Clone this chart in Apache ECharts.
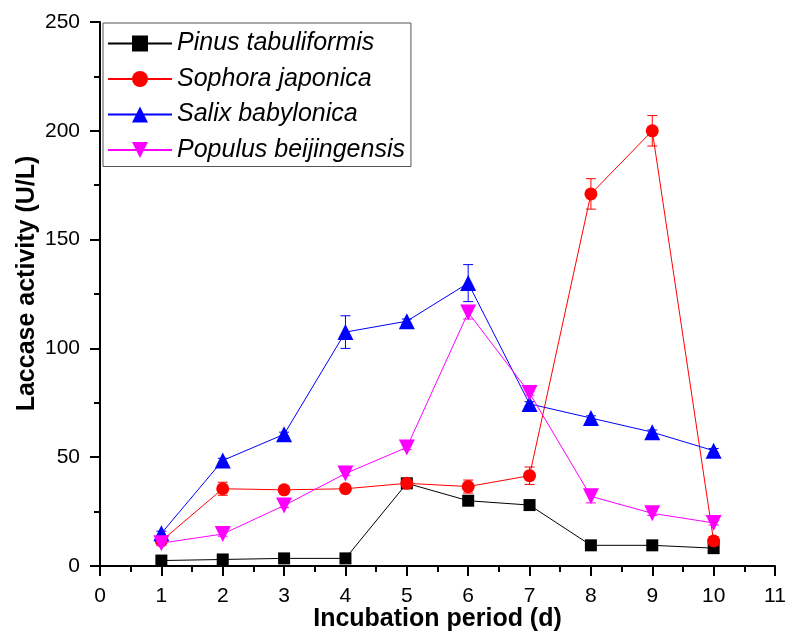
<!DOCTYPE html>
<html>
<head>
<meta charset="utf-8">
<script src="https://cdn.jsdelivr.net/npm/echarts@6/dist/echarts.min.js"></script>
<style>
  html, body { margin: 0; padding: 0; background: #fff; }
  #chart { width: 787px; height: 632px; }
</style>
</head>
<body>
<div id="chart"></div>
<script>
// incubation days
var days = [1, 2, 3, 4, 5, 6, 7, 8, 9, 10];

// laccase activity (U/L) per species, with standard deviations
var pinus = [2.5, 3, 3.5, 3.5, 38, 30, 28, 9.5, 9.5, 8.2];
var pinusErr = [0.5, 0.5, 0.5, 0.5, 1.5, 1, 1, 0.8, 0.8, 0.8];

var sophora = [11.5, 35.5, 35, 35.5, 38, 36.5, 41.5, 171, 200, 11.5];
var sophoraErr = [1, 3, 1, 1, 1.5, 3, 4, 7, 7, 2];

var salix = [15, 48.5, 60.5, 107.5, 112.5, 130, 74.5, 68, 61.5, 53];
var salixErr = [1, 1, 1, 7.5, 1, 8.5, 1, 1, 1, 1];

var populus = [10.5, 14.7, 27.8, 42.5, 54.5, 116.5, 79.5, 32, 24.2, 19.8];
var populusErr = [1, 1, 1, 1, 1, 3, 1, 3, 1, 1];

var names = ['Pinus tabuliformis', 'Sophora japonica', 'Salix babylonica', 'Populus beijingensis'];
var colors = ['#000000', '#ff0000', '#0000ff', '#ff00ff'];
var symbols = ['rect', 'circle', 'triangle', 'triangle'];
var symbolSizes = [12, 13, 16, 16];
var rotates = [0, 0, 0, 180];

var values = [pinus, sophora, salix, populus];
var errors = [pinusErr, sophoraErr, salixErr, populusErr];

var font = 'Liberation Sans, Arial, sans-serif';

var series = [];
values.forEach(function (vals, k) {
    series.push({
        name: names[k] + ' err',
        type: 'custom',
        data: days.map(function (d, i) {
            return [d, vals[i] - errors[k][i], vals[i] + errors[k][i]];
        }),
        renderItem: function (params, api) {
            var lo = api.coord([api.value(0), api.value(1)]);
            var hi = api.coord([api.value(0), api.value(2)]);
            var w = 5;
            var st = { stroke: colors[k], lineWidth: 1 };
            return {
                type: 'group',
                children: [
                    { type: 'line', shape: { x1: lo[0], y1: lo[1], x2: hi[0], y2: hi[1] }, style: st },
                    { type: 'line', shape: { x1: lo[0] - w, y1: lo[1], x2: lo[0] + w, y2: lo[1] }, style: st },
                    { type: 'line', shape: { x1: hi[0] - w, y1: hi[1], x2: hi[0] + w, y2: hi[1] }, style: st }
                ]
            };
        },
        z: 2 + k
    });
    series.push({
        name: names[k],
        type: 'line',
        data: days.map(function (d, i) { return [d, vals[i]]; }),
        symbol: symbols[k],
        symbolSize: symbolSizes[k],
        symbolRotate: rotates[k],
        showAllSymbol: true,
        lineStyle: { color: colors[k], width: 1 },
        itemStyle: { color: colors[k] },
        z: 2 + k
    });
});

var chart = echarts.init(document.getElementById('chart'));
chart.setOption({
    backgroundColor: '#fff',
    animation: false,
    grid: { left: 100, right: 12, top: 22, bottom: 66, outerBoundsMode: 'none' },
    legend: {
        data: names,
        orient: 'vertical',
        left: 103,
        top: 23,
        padding: [8, 6, 4, 4],
        itemWidth: 64,
        itemHeight: 20,
        itemGap: 10.5,
        borderColor: '#555',
        borderWidth: 1,
        textStyle: { fontFamily: font, fontSize: 25, fontStyle: 'italic', color: '#000', lineHeight: 25 }
    },
    xAxis: {
        type: 'value',
        min: 0,
        max: 11,
        interval: 1,
        name: 'Incubation period (d)',
        nameLocation: 'middle',
        nameGap: 41,
        nameMoveOverlap: false,
        nameTextStyle: { fontFamily: font, fontSize: 25, fontWeight: 'bold', color: '#000' },
        axisLine: { lineStyle: { color: '#000', width: 2 } },
        axisTick: { length: 10, lineStyle: { color: '#000', width: 2 } },
        minorTick: { show: true, splitNumber: 2, length: 6, lineStyle: { color: '#000', width: 2 } },
        axisLabel: { fontFamily: font, fontSize: 21, color: '#000', margin: 20 },
        splitLine: { show: false }
    },
    yAxis: {
        type: 'value',
        min: 0,
        max: 250,
        interval: 50,
        name: 'Laccase activity (U/L)',
        nameLocation: 'middle',
        nameGap: 60,
        nameMoveOverlap: false,
        nameTextStyle: { fontFamily: font, fontSize: 25, fontWeight: 'bold', color: '#000', padding: [0, 0, 0, 21] },
        axisLine: { show: true, lineStyle: { color: '#000', width: 2 } },
        axisTick: { show: true, length: 10, lineStyle: { color: '#000', width: 2 } },
        minorTick: { show: true, splitNumber: 2, length: 6, lineStyle: { color: '#000', width: 2 } },
        axisLabel: { fontFamily: font, fontSize: 21, color: '#000', margin: 20 },
        splitLine: { show: false }
    },
    series: series
});
</script>
</body>
</html>
